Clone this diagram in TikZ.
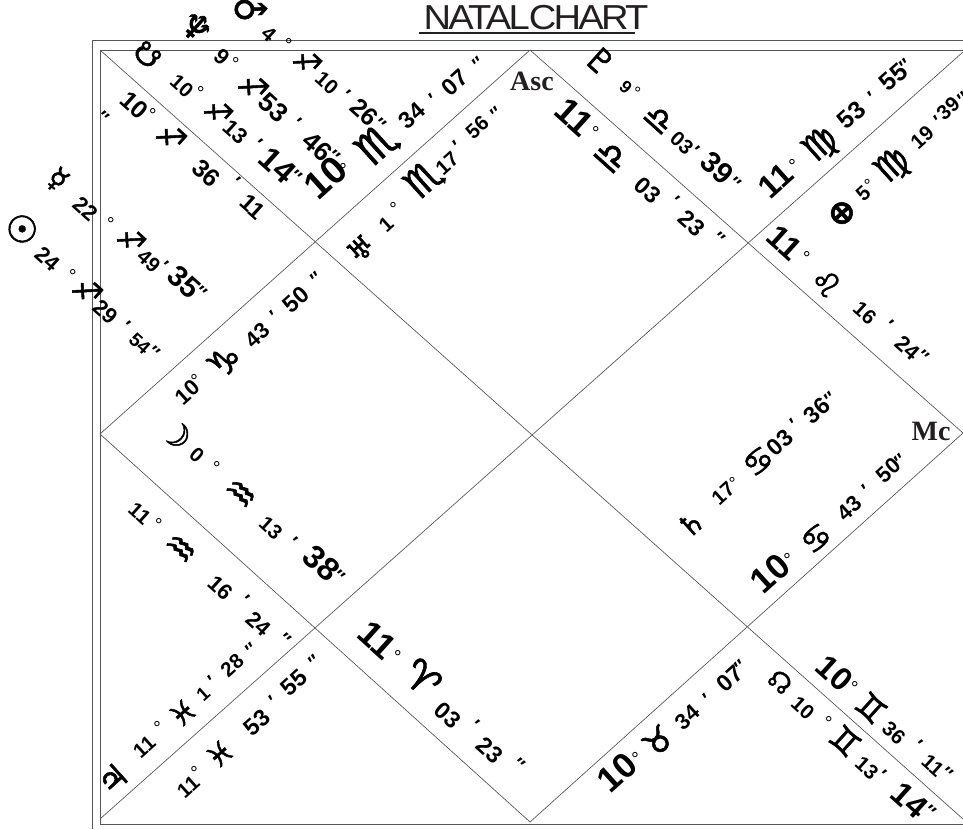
\documentclass[tikz,border=0pt]{standalone}
\usepackage{xcolor}
\usepackage{fontspec}
\setmainfont{Liberation Sans}
\newfontfamily\astro[FakeBold=1.6]{DejaVu Sans}
\newfontfamily\housefont{Liberation Serif}
\newfontfamily\titlefont[LetterSpace=-8, FakeStretch=1.1]{Liberation Sans}
\definecolor{Ink}{HTML}{231F20}
\definecolor{Rule}{HTML}{555555}
\newcommand{\sym}[1]{\raisebox{-.14em}{\scalebox{1.25}{\astro #1}}}
% planets
\newcommand{\pSun}{\sym{☉}}
\newcommand{\pMoon}{\sym{☽}}
\newcommand{\pMercury}{\sym{☿}}
\newcommand{\pMars}{\sym{♂}}
\newcommand{\pJupiter}{\sym{♃}}
\newcommand{\pSaturn}{\sym{♄}}
\newcommand{\pUranus}{\sym{♅}}
\newcommand{\pNeptune}{\sym{♆}}
\newcommand{\pPluto}{\sym{♇}}
\newcommand{\pRahu}{\sym{☊}}
\newcommand{\pKetu}{\sym{☋}}
\newcommand{\pFortune}{\sym{⊕}}
% signs
\newcommand{\zAri}{\sym{♈}}
\newcommand{\zTau}{\sym{♉}}
\newcommand{\zGem}{\sym{♊}}
\newcommand{\zCan}{\sym{♋}}
\newcommand{\zLeo}{\sym{♌}}
\newcommand{\zVir}{\sym{♍}}
\newcommand{\zLib}{\sym{♎}}
\newcommand{\zSco}{\sym{♏}}
\newcommand{\zSag}{\sym{♐}}
\newcommand{\zCap}{\sym{♑}}
\newcommand{\zAqu}{\sym{♒}}
\newcommand{\zPis}{\sym{♓}}
% marks, moved down to the middle of their line
\newcommand{\dg}{\raisebox{-.21em}{\mdseries °}}
\newcommand{\mn}{\raisebox{-.24em}{′}}
\newcommand{\sn}{\raisebox{-.24em}{″}}
\newcommand{\hvy}[1]{\textbf{#1}}
\tikzset{
  token/.style={inner sep=0pt, text height=0pt, text depth=0pt, text=black},
  falling/.style={token, rotate=-42},
  rising/.style={token, rotate=42},
  house/.style={font=\housefont\bfseries\fontsize{21}{21}\selectfont, text=Ink, inner sep=0pt},
  frame/.style={draw=Rule, line width=0.65pt},
  cross/.style={draw=Rule, line width=0.5pt}
}
\newcommand{\degreerow}[3]{%
  \foreach \px/\py/\ps/\tx [count=\i] in {#3}{%
    \pgfmathsetmacro\fs{\ps*1.1}
    \node[#1, font=\bfseries\fontsize{\fs}{\fs}\selectfont] (#2\i) at (\px,\py) {\raisebox{-.36em}{\tx}};}}

\begin{document}
\begin{tikzpicture}[x=0.75pt, y=-0.75pt]
\useasboundingbox (0,0) rectangle (963,829);

\coordinate (outerTR) at (963,40);
\coordinate (outerTL) at (92,40);
\coordinate (outerBL) at (92,829);
\coordinate (innerTR) at (963,50);
\coordinate (innerTL) at (100,50);
\coordinate (innerBL) at (100,824);
\coordinate (innerBR) at (963,824);
\coordinate (midT) at (530,50);
\coordinate (midL) at (100,434);
\coordinate (midB) at (530,822);
\coordinate (midR) at (963,433);
\coordinate (cornerTR) at (963,52);
\coordinate (cornerBL) at (100,819);
\coordinate (cornerBR) at (963,819);
\coordinate (lineL) at (419,33);
\coordinate (lineR) at (635,33);

\draw[frame] (outerTR) -- (outerTL) -- (outerBL);
\draw[frame] (innerTR) -- (innerTL) -- (innerBL) -- (innerBR);
\draw[cross] (midT) -- (midR) -- (midB) -- (midL) -- cycle;
\draw[cross] (innerTL) -- (cornerBR);
\draw[cross] (cornerTR) -- (cornerBL);

\node[font=\titlefont\fontsize{26}{26}\selectfont, text=Ink, inner sep=0pt] (title) at (536,18) {NATAL\hspace{-.25em} CHART};
\draw[draw=Ink, line width=1.5pt] (lineL) -- (lineR);

\node[house] (asc) at (532,81) {Asc};
\node[house] (mc) at (931,431) {Mc};

% upper left
\degreerow{falling}{mars}{250/8/19/\pMars, 269/34/14/4, 289/41/13/\dg, 308/61/16/\zSag, 327/83/14/10, 349/92/13/\mn, 365/112/17/26, 383/121/13/\sn}
\degreerow{falling}{neptune}{197/26/20/\pNeptune, 222/57/15/9, 236/60/13/\dg, 254/86/17/\zSag, 274/107/18/53, 300/120/13/\mn, 318/146/18/46, 337/153/13/\sn}
\degreerow{falling}{ketu}{148/54/16/\pKetu, 182/86/14/10, 201/89/13/\dg, 219/111/16/\zSag, 236/132/15/13, 261/141/13/\mn, 278/165/22/14, 299/173/13/\sn}
\degreerow{falling}{venus}{106/114/13/\sn, 135/105/17/10, 153/111/13/\dg, 172/136/17/\zSag, 207/173/17/36, 239/179/13/\mn, 253/207/16/11}
\degreerow{rising}{lagna}{325/177/26/\hvy{10}, 343/166/13/\dg, 375/142/24/\zSco, 412/115/16/34, 430/95/13/\mn, 455/82/16/07, 475/60/13/\sn}
\degreerow{rising}{uranus}{360/248/16/\pUranus, 386/224/14/1, 393/205/13/\dg, 422/177/22/\zSco, 447/163/14/17, 454/142/13/\mn, 477/127/14/56, 493/110/13/\sn}
\degreerow{falling}{mercury}{59/178/16/\pMercury, 86/209/15/22, 111/220/13/\dg, 132/239/16/\zSag, 149/261/14/49, 167/263/13/\mn, 185/282/20/35, 204/289/13/\sn}
\degreerow{falling}{sun}{23/228/20/\pSun, 48/259/15/24, 73/272/13/\dg, 88/290/17/\zSag, 106/312/15/29, 129/323/13/\mn, 140/343/13/54, 157/349/13/\sn}
\degreerow{rising}{second}{187/392/15/10, 194/377/13/\dg, 223/360/20/\zCap, 257/335/15/43, 271/312/13/\mn, 296/299/16/50, 313/275/13/\sn}

% upper right
\degreerow{falling}{pluto}{601/60/18/\pPluto, 626/87/12/9, 638/89/12/\dg, 660/118/18/\zLib, 682/143/14/03, 698/148/13/\mn, 718/168/20/39, 738/180/13/\sn}
\degreerow{falling}{twelfth}{575/117/24/\hvy{11}, 596/129/13/\dg, 612/155/20/\zLib, 648/190/16/03, 678/198/13/\mn, 692/223/16/23, 722/235/13/\sn}
\degreerow{rising}{eleventh}{775/180/22/\hvy{11}, 792/162/13/\dg, 818/142/20/\zVir, 851/115/17/53, 869/93/13/\mn, 893/77/17/55, 902/62/13/\sn}
\degreerow{rising}{fortune}{840/211/18/\pFortune, 863/193/14/5, 867/182/12/\dg, 890/163/20/\zVir, 922/137/14/19, 935/117/13/\mn, 948/108/14/39, 960/95/13/\sn}
\degreerow{falling}{tenth}{785/242/22/\hvy{11}, 807/254/13/\dg, 827/282/18/\zLeo, 865/313/14/16, 892/322/13/\mn, 908/348/15/24, 926/353/13/\sn}

% lower left
\degreerow{falling}{moon}{177/433/18/\pMoon, 197/455/14/0, 217/464/13/\dg, 242/492/20/\zAqu, 271/528/14/13, 296/539/13/\mn, 322/563/22/38, 342/573/13/\sn}
\degreerow{falling}{third}{140/513/14/11, 159/521/13/\dg, 182/547/20/\zAqu, 221/588/15/16, 248/597/13/\mn, 259/624/15/24, 288/636/13/\sn}
\degreerow{falling}{fifth}{378/640/24/\hvy{11}, 398/653/13/\dg, 423/677/22/\zAri, 448/715/16/03, 478/722/13/\mn, 490/750/16/23, 522/761/13/\sn}
\degreerow{rising}{jupiter}{112/778/18/\pJupiter, 144/747/14/11, 157/724/13/\dg, 182/712/16/\zPis, 203/694/13/1, 209/677/13/\mn, 232/665/14/28, 248/646/13/\sn}
\degreerow{rising}{fourth}{188/787/14/11, 194/769/13/\dg, 219/753/16/\zPis, 257/722/16/53, 270/697/13/\mn, 294/682/16/55, 311/658/13/\sn}

% lower right
\degreerow{rising}{saturn}{690/523/16/\pSaturn, 723/493/14/17, 732/480/12/\dg, 757/460/18/\zCan, 780/442/16/03, 791/420/13/\mn, 817/410/16/36, 827/395/13/\sn}
\degreerow{rising}{ninth}{770/573/24/\hvy{10}, 787/556/13/\dg, 815/537/18/\zCan, 849/508/15/43, 863/486/13/\mn, 888/470/15/50, 897/457/13/\sn}
\degreerow{rising}{sixth}{617/772/24/\hvy{10}, 635/755/13/\dg, 657/740/18/\zTau, 687/717/15/34, 704/695/13/\mn, 730/678/16/07, 737/663/13/\sn}
\degreerow{falling}{eighth}{835/673/22/\hvy{10}, 855/684/13/\dg, 872/707/18/\zGem, 894/733/14/36, 921/742/13/\mn, 933/765/14/11, 950/770/13/\sn}
\degreerow{falling}{rahu}{781/681/14/\pRahu, 803/708/14/10, 829/719/13/\dg, 846/740/18/\zGem, 867/768/14/13, 885/772/13/\mn, 910/800/22/14, 933/808/13/\sn}
\end{tikzpicture}
\end{document}
